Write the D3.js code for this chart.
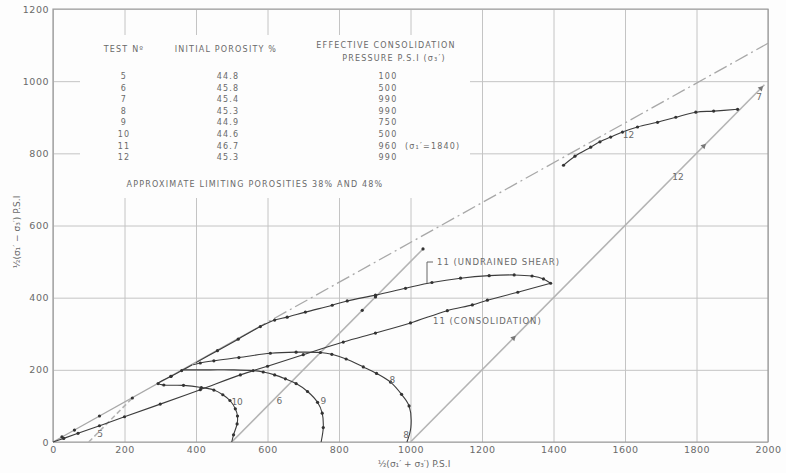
<!DOCTYPE html>
<html>
<head>
<meta charset="utf-8">
<script src="https://cdn.jsdelivr.net/npm/d3@7"></script>
<style>
  body { margin: 0; background: #fdfdfd; }
  text { font-family: "DejaVu Sans", sans-serif; fill: #6a6a6a; }
</style>
</head>
<body>
<div id="chart"></div>
<script>
// table in the top left
var testNo = ["5", "6", "7", "8", "9", "10", "11", "12"];
var porosity = ["44.8", "45.8", "45.4", "45.3", "44.9", "44.6", "46.7", "45.3"];
var pressure = ["100", "500", "990", "990", "750", "500", "960", "990"];

var xTicks = [0, 200, 400, 600, 800, 1000, 1200, 1400, 1600, 1800, 2000];
var yTicks = [0, 200, 400, 600, 800, 1000, 1200];

// failure envelope (solid part, then dash-dot)
var envSolid = [[0, 0], [560, 310]];
var envDashed = [[560, 310], [2000, 1105]];
var envDots = [[25, 14], [60, 33], [130, 72], [222, 122], [330, 182]];

// drained (45 degree) paths
var path5 = [[100, 0], [222, 122]];
var path6 = [[500, 0], [1035, 535]];
var path6Dots = [[865, 365], [902, 402], [1035, 535]];
var path7 = [[1000, 0], [1990, 990]];
var path7Arrows = [[1288, 288], [1820, 820], [1980, 980]];

// undrained paths
var path8 = [[990, 0], [1001, 40], [996, 100], [975, 132], [944, 166], [905, 190], [868, 208], [820, 230],
  [780, 243], [748, 248], [680, 249], [608, 246], [520, 234], [450, 225], [412, 219], [392, 214]];
var path9 = [[750, 0], [756, 40], [753, 80], [740, 110], [712, 140], [680, 162], [650, 175], [620, 186],
  [588, 194], [560, 198], [500, 200], [440, 200], [380, 200], [365, 200]];
var path10 = [[500, 0], [505, 20], [515, 50], [516, 72], [510, 92], [495, 115], [475, 131], [450, 144],
  [415, 151], [365, 157], [310, 158], [294, 162], [330, 182], [360, 198], [390, 214]];
var path11c = [[0, 0], [30, 10], [70, 24], [130, 45], [200, 70], [300, 105], [412, 145], [524, 186],
  [600, 210], [700, 242], [812, 277], [902, 302], [1000, 330], [1103, 364], [1173, 380], [1215, 393],
  [1300, 415], [1392, 440]];
var path11u = [[1392, 440], [1372, 452], [1340, 460], [1290, 463], [1220, 461], [1140, 454], [1060, 442],
  [986, 426], [902, 407], [823, 391], [781, 379], [706, 360], [655, 346], [620, 338], [580, 320],
  [518, 285], [460, 253], [400, 220]];
var path12 = [[1428, 767], [1460, 792], [1504, 817], [1530, 832], [1560, 845], [1593, 859], [1635, 873],
  [1691, 886], [1742, 900], [1798, 914], [1848, 917], [1915, 922]];

var curveLabels = [
  {t: "5", x: 132, y: 14}, {t: "10", x: 515, y: 102}, {t: "6", x: 633, y: 105},
  {t: "9", x: 756, y: 105}, {t: "8", x: 949, y: 163}, {t: "8", x: 988, y: 11},
  {t: "12", x: 1610, y: 842}, {t: "12", x: 1748, y: 726}, {t: "7", x: 1975, y: 947}
];

var width = 786, height = 473;
var svg = d3.select("#chart")
  .append("svg")
    .attr("width", width)
    .attr("height", height)

var x = d3.scaleLinear().domain([0, 2000]).range([53, 768]);
var y = d3.scaleLinear().domain([0, 1200]).range([442, 9]);

// grid + tick labels
var gx = svg.append("g")
  .attr("transform", "translate(0,442)")
  .call(d3.axisBottom(x).tickValues(xTicks).tickSize(-433).tickPadding(8).tickFormat(d3.format("d")));
var gy = svg.append("g")
  .attr("transform", "translate(53,0)")
  .call(d3.axisLeft(y).tickValues(yTicks).tickSize(-715).tickPadding(4).tickFormat(d3.format("d")));
svg.selectAll(".domain").remove();
svg.selectAll(".tick line").attr("stroke", "#c4c4c4").attr("stroke-width", 1);
svg.selectAll(".tick text")
  .style("font-size", "9.5px")
  .style("letter-spacing", "0.5px")
  .attr("fill", "#7a7a7a");
gx.selectAll(".tick text").attr("dy", "0.35em");

// white space around the table
svg.append("rect")
  .attr("x", 80).attr("y", 35)
  .attr("width", 390).attr("height", 163)
  .attr("fill", "#fdfdfd");

// frame
svg.append("path")
  .attr("d", "M53,442V9H768V442H53")
  .attr("fill", "none")
  .attr("stroke", "#9a9a9a")
  .attr("stroke-width", 1.2);

var line = d3.line().x(function(d) { return x(d[0]); }).y(function(d) { return y(d[1]); });
var smooth = d3.line().curve(d3.curveCatmullRom.alpha(0.5))
  .x(function(d) { return x(d[0]); }).y(function(d) { return y(d[1]); });

// envelope
svg.append("path").attr("d", line(envSolid))
  .attr("fill", "none").attr("stroke", "#a8a8a8").attr("stroke-width", 1.3);
svg.append("path").attr("d", line(envDashed))
  .attr("fill", "none").attr("stroke", "#a8a8a8").attr("stroke-width", 1.3)
  .attr("stroke-dasharray", "14,4,2,4");

// light drained lines
[path5, path6, path7].forEach(function(p, i) {
  svg.append("path").attr("d", line(p))
    .attr("fill", "none").attr("stroke", "#b4b4b4")
    .attr("stroke-width", 1.6)
    .attr("stroke-dasharray", i == 0 ? "5,3" : null);
});

// dark stress paths
[path8, path9, path10, path11c, path11u, path12].forEach(function(p) {
  svg.append("path").attr("d", smooth(p))
    .attr("fill", "none").attr("stroke", "#3c3c3c").attr("stroke-width", 1.1);
});

// dots
var dotData = [].concat(path8.slice(2, -1), path9.slice(1, 10), path10.slice(1, -1),
  path11c.slice(1), path11u.slice(1, -1), path12, envDots, path6Dots);
svg.append("g")
  .selectAll("circle")
  .data(dotData)
  .enter()
  .append("circle")
    .attr("cx", function(d) { return x(d[0]); })
    .attr("cy", function(d) { return y(d[1]); })
    .attr("r", 1.6)
    .style("fill", "#333")

// arrows on the 45 degree line
svg.append("g")
  .selectAll("path")
  .data(path7Arrows)
  .enter()
  .append("path")
    .attr("d", d3.symbol().type(d3.symbolTriangle).size(14))
    .attr("transform", function(d) { return "translate(" + x(d[0]) + "," + y(d[1]) + ") rotate(45)"; })
    .attr("fill", "#777");

// curve labels
svg.append("g")
  .selectAll("text")
  .data(curveLabels)
  .enter()
  .append("text")
    .attr("x", function(d) { return x(d.x); })
    .attr("y", function(d) { return y(d.y); })
    .attr("text-anchor", "middle")
    .style("font-size", "9px")
    .text(function(d) { return d.t; });

// annotations for test 11
svg.append("path").attr("d", "M427,262V283M427,262H433")
  .attr("stroke", "#666").attr("fill", "none");
svg.append("text").attr("x", 437).attr("y", 265)
  .style("font-size", "8.5px").style("letter-spacing", "1px")
  .text("11 (UNDRAINED SHEAR)");
svg.append("text").attr("x", 433).attr("y", 324)
  .style("font-size", "8.5px").style("letter-spacing", "1px")
  .text("11 (CONSOLIDATION)");

// table
var tbl = svg.append("g").style("font-size", "8px").style("letter-spacing", "1.2px");
tbl.append("text").attr("x", 124).attr("y", 52).attr("text-anchor", "middle").text("TEST Nº");
tbl.append("text").attr("x", 226).attr("y", 52).attr("text-anchor", "middle").text("INITIAL POROSITY %");
tbl.append("text").attr("x", 386).attr("y", 48).attr("text-anchor", "middle").text("EFFECTIVE CONSOLIDATION");
tbl.append("text").attr("x", 394).attr("y", 61).attr("text-anchor", "middle").text("PRESSURE P.S.I (σ₃′)");
testNo.forEach(function(t, i) {
  var ty = 79 + i * 11.6;
  tbl.append("text").attr("x", 124).attr("y", ty).attr("text-anchor", "middle").text(t);
  tbl.append("text").attr("x", 228).attr("y", ty).attr("text-anchor", "middle").text(porosity[i]);
  tbl.append("text").attr("x", 388).attr("y", ty).attr("text-anchor", "middle").text(pressure[i]);
});
tbl.append("text").attr("x", 405).attr("y", 79 + 6 * 11.6).text("(σ₁′=1840)");
tbl.append("text").attr("x", 255).attr("y", 187).attr("text-anchor", "middle")
  .text("APPROXIMATE LIMITING POROSITIES 38% AND 48%");

// axis titles
svg.append("text")
  .attr("transform", "translate(20,232) rotate(-90)")
  .attr("text-anchor", "middle")
  .style("font-size", "9px")
  .text("½(σ₁′ − σ₃′) P.S.I");
svg.append("text")
  .attr("x", 414).attr("y", 467)
  .attr("text-anchor", "middle")
  .style("font-size", "9px")
  .text("½(σ₁′ + σ₃′) P.S.I");
</script>
</body>
</html>
